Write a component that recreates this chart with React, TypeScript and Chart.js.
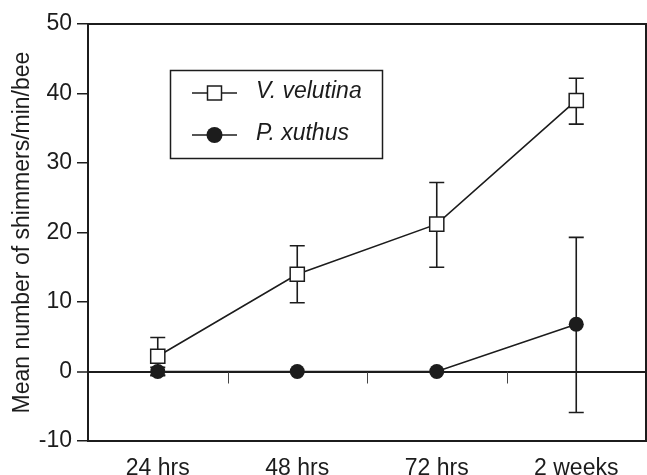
import React, { useEffect, useRef } from "react";
import { Chart, registerables } from "chart.js";

Chart.register(...registerables);

const categories = ["24 hrs", "48 hrs", "72 hrs", "2 weeks"];
const velutinaLabel = "V. velutina";
const velutinaMean = [2.2, 14.0, 21.2, 39.0];
const velutinaUpper = [4.9, 18.1, 27.2, 42.2];
const velutinaLower = [-0.5, 9.9, 15.0, 35.6];
const xuthusLabel = "P. xuthus";
const xuthusMean = [0, 0, 0, 6.8];
const xuthusUpper = [0.6, null, null, 19.3];
const xuthusLower = [-0.6, null, null, -5.9];
const yMin = -10;
const yMax = 50;
const yStep = 10;
const yTitle = "Mean number of shimmers/min/bee";

const INK = "#1c1c1c";
const FONT = "'Liberation Sans', Arial, Helvetica, sans-serif";

const decorPlugin = {
  id: "decor",
  beforeDatasetsDraw(chart: any) {
    const { ctx, chartArea: a, scales } = chart;
    const xs = scales.x;
    const ys = scales.y;
    ctx.save();
    // frame
    ctx.strokeStyle = INK;
    ctx.lineWidth = 2;
    ctx.strokeRect(a.left, a.top, a.right - a.left, a.bottom - a.top);
    // category boundary ticks hanging from the zero line
    const y0 = ys.getPixelForValue(0);
    ctx.lineWidth = 1;
    ctx.strokeStyle = "#444";
    for (let i = 1; i < categories.length; i++) {
      const px = Math.round((xs.getPixelForTick(i - 1) + xs.getPixelForTick(i)) / 2) + 0.5;
      ctx.beginPath();
      ctx.moveTo(px, y0);
      ctx.lineTo(px, y0 + 12);
      ctx.stroke();
    }
    // error bars
    ctx.strokeStyle = INK;
    ctx.lineWidth = 1.6;
    chart.data.datasets.forEach((ds: any) => {
      const lo = ds.errLow as (number | null)[];
      const hi = ds.errHigh as (number | null)[];
      if (!lo || !hi) return;
      for (let i = 0; i < lo.length; i++) {
        if (lo[i] == null || hi[i] == null) continue;
        const px = xs.getPixelForTick(i);
        const pl = ys.getPixelForValue(lo[i]);
        const ph = ys.getPixelForValue(hi[i]);
        const cap = 7.5;
        ctx.beginPath();
        ctx.moveTo(px, pl);
        ctx.lineTo(px, ph);
        ctx.moveTo(px - cap, pl);
        ctx.lineTo(px + cap, pl);
        ctx.moveTo(px - cap, ph);
        ctx.lineTo(px + cap, ph);
        ctx.stroke();
      }
    });
    ctx.restore();
  },
  afterDraw(chart: any) {
    const { ctx } = chart;
    ctx.save();
    const bx = 170.5, by = 70.5, bw = 212, bh = 88;
    ctx.fillStyle = "#fff";
    ctx.fillRect(bx, by, bw, bh);
    ctx.strokeStyle = INK;
    ctx.lineWidth = 1.5;
    ctx.strokeRect(bx, by, bw, bh);
    const rows = [93, 135];
    chart.data.datasets.forEach((ds: any, i: number) => {
      const yy = rows[i];
      ctx.strokeStyle = INK;
      ctx.lineWidth = 1.6;
      ctx.beginPath();
      ctx.moveTo(192, yy);
      ctx.lineTo(237, yy);
      ctx.stroke();
      ctx.lineWidth = 1.5;
      if (ds.pointStyle === "rect") {
        ctx.fillStyle = "#fff";
        ctx.fillRect(207.5, yy - 7, 14, 14);
        ctx.strokeRect(207.5, yy - 7, 14, 14);
      } else {
        ctx.fillStyle = INK;
        ctx.beginPath();
        ctx.arc(214.5, yy, 8, 0, Math.PI * 2);
        ctx.fill();
      }
      ctx.fillStyle = INK;
      ctx.font = `italic 23px ${FONT}`;
      ctx.textAlign = "left";
      ctx.textBaseline = "alphabetic";
      ctx.fillText(ds.label, 256, yy + 5);
    });
    ctx.restore();
  },
};

export default function App() {
  const ref = useRef<HTMLCanvasElement | null>(null);
  useEffect(() => {
    if (!ref.current) return;
    const chart = new Chart(ref.current, {
      type: "line",
      data: {
        labels: categories,
        datasets: [
          {
            label: velutinaLabel,
            data: velutinaMean,
            borderColor: INK,
            borderWidth: 1.6,
            pointStyle: "rect",
            pointRadius: 10,
            pointBackgroundColor: "#fff",
            pointBorderColor: INK,
            pointBorderWidth: 1.5,
            fill: false,
            tension: 0,
            errLow: velutinaLower,
            errHigh: velutinaUpper,
          } as any,
          {
            label: xuthusLabel,
            data: xuthusMean,
            borderColor: INK,
            borderWidth: 1.6,
            pointStyle: "circle",
            pointRadius: 7.5,
            pointBackgroundColor: INK,
            pointBorderColor: INK,
            pointBorderWidth: 0,
            fill: false,
            tension: 0,
            errLow: xuthusLower,
            errHigh: xuthusUpper,
          } as any,
        ],
      },
      options: {
        responsive: false,
        animation: false,
        devicePixelRatio: 1,
        events: [],
        layout: { autoPadding: false, padding: { top: 24, right: 1, left: 0, bottom: 0 } },
        plugins: {
          legend: { display: false },
          tooltip: { enabled: false },
          title: { display: false },
        },
        scales: {
          x: {
            type: "category",
            offset: true,
            grid: { display: false, drawTicks: false },
            border: { display: false },
            ticks: {
              color: INK,
              font: { family: FONT, size: 23 },
              padding: 14,
              maxRotation: 0,
              autoSkip: false,
            },
            afterFit: (s: any) => {
              s.height = 34;
              s.paddingLeft = 0;
              s.paddingRight = 0;
            },
          },
          y: {
            min: yMin,
            max: yMax,
            border: { display: false },
            grid: {
              drawOnChartArea: true,
              color: (c: any) => (c.tick && c.tick.value === 0 ? INK : "rgba(0,0,0,0)"),
              lineWidth: (c: any) => (c.tick && c.tick.value === 0 ? 2 : 1.5),
              tickColor: INK,
              tickWidth: 1.5,
              tickLength: 11,
            },
            ticks: {
              stepSize: yStep,
              color: INK,
              font: { family: FONT, size: 23 },
              padding: 5,
            },
            title: {
              display: true,
              text: yTitle,
              color: INK,
              font: { family: FONT, size: 23 },
              padding: { top: 9, bottom: 0 },
            },
            afterFit: (s: any) => {
              s.width = 88;
              s.paddingTop = 0;
              s.paddingBottom = 0;
            },
          },
        },
      },
      plugins: [decorPlugin],
    });
    return () => chart.destroy();
  }, []);
  return (
    <div style={{ position: "absolute", left: 0, top: 0, width: 647, height: 475, background: "#fff" }}>
      <canvas ref={ref} width={647} height={475} style={{ display: "block" }} />
    </div>
  );
}
